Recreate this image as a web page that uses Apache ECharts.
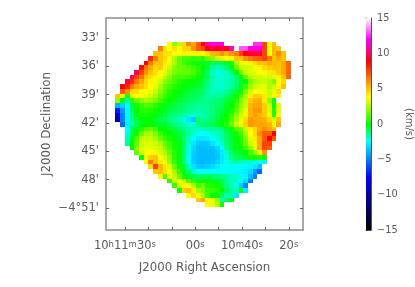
<!DOCTYPE html>
<html><head><meta charset="utf-8">
<style>html,body{margin:0;padding:0;background:#fff}#c{width:415px;height:287px}</style>
<script src="https://cdn.jsdelivr.net/npm/echarts@6/dist/echarts.min.js"></script>
</head><body><div id="c"></div>
<script>
// RA in seconds relative to 10h11m00s; Dec in arcmin below -4deg
const raTicks=[30,20,10,0,-10,-20,-30,-40];
const raLabelTicks=[30,0,-20,-40];
const raLabels=['10{s|h}11{s|m}30{s|s}','00{s|s}','10{s|m}40{s|s}','20{s|s}'];
const decTicks=[33,36,39,42,45,48,51];
const decLabels=["33'","36'","39'","42'","45'","48'","\u22124\u00b051'"];
const barTicks=[-15,-10,-5,0,5,10,15];
const barRange=[-15,15];
const colorStops=[[-15,'#000000'],[-7.5,'#0000ff'],[-2.5,'#00ffff'],[0,'#00ff00'],[3.8,'#ffff00'],[8.8,'#ff0000'],[12,'#ff00ff'],[15,'#ffffff']];
const firstCol=[11,9,8,7,6,5,4,3,2,1,1,0,0,0,0,0,0,1,2,2,2,2,3,4,5,6,7,8,9,11,12,13,15,17,19];
const _=null;
const velocity=[
[3.8,2,2.8,4.6,6.3,5.5,7,8.8,11,11.5,11.5,11.5,_,_,_,_,_,_,12.5,12.5,7.5,3.8,5.2],
[6.3,4.4,3.8,4.4,3.8,4.6,4.6,6,7,7.5,9,9.8,9,10,9,11.5,_,13,13,11.5,11.5,11.5,7.5,3.8,5.2,4.8],
[5,5,4.4,4.4,3.8,3.8,4.1,3.7,3.7,4.1,3.8,4.4,5.2,5.4,6,5.2,5.8,6.3,7.5,8.8,9.5,9.5,9.5,7.5,3.8,5.2,6.2,5],
[8,6.3,5,4.4,3.8,2.5,1.5,1,1,.8,1,.5,1.8,2,3,3.5,3.8,4,5,5,6,6.5,7,7,7.5,6.5,5,5.5,5],
[8.8,6.5,5,5,4.2,3.5,2.5,1.5,1,.5,.2,.2,-.3,-.4,-.8,-.8,-.7,-.4,.2,2.5,3.5,3.8,4,4.5,5,5,5.5,5.2,5,5.5,6.8],
[8.5,6.5,5.5,4.5,4.8,4,3,2,1.5,1.5,1.2,.8,.5,0,-.5,-1.5,-1.8,-1.6,-1.2,-.3,1.5,3,3,3.2,3.6,4,4.5,4.8,5,5,5.5,6.8],
[10,7.5,6,5,4.4,3.8,3.5,2.5,1.8,1.5,1.5,1.5,1,.5,-.2,-1,-2,-2.2,-2,-1.8,-1,0,1.5,3,3.3,3.4,3.8,3.6,4.2,4.4,4.8,5.5,6.8],
[10,7.5,6.5,5,4.4,4,3.6,2.8,2,1.2,1,1,.8,.5,.2,-.3,-.8,-1.5,-2,-2.2,-2,-1.8,-1,0,1.5,2.8,3,3,3.3,3,3.5,4,5,6.8],
[9.5,8,6.5,5.5,4.5,4,3.6,3,2,1.5,1,.5,.2,.1,0,-.2,-.6,-1.2,-1.8,-2,-2,-1.8,-1.5,-1.2,-.5,0,1.8,2.5,2.8,3,2.5,1.8,3.8,4.5],
[9,8,6.5,5.5,5,4.4,3.8,3.5,2.5,1.5,1,.5,.2,0,-.2,-.3,-.5,-.8,-1.3,-1.8,-2,-2,-1.8,-1.6,-1,-.3,.8,2.2,3,3.3,3.5,2.5,3,3.8,5],
[7,6,4.5,4.5,4,3.8,3.5,3,2,1.2,.5,.2,0,-.3,-.5,-.7,-.8,-1,-1.5,-1.8,-1.8,-1.8,-1.5,-1,-.5,.2,1.8,3.2,3.8,3.8,3.6,3,3.5,4.5],
[5,3.5,.2,3.5,3.8,3.8,3.5,3,2.5,1.5,.8,.3,.1,-.2,-.5,-.7,-.8,-1,-1.2,-1.6,-1.5,-1.5,-1.4,-1,-.5,.1,1,2.5,4.2,4.8,4.8,4.2,3,3.8,4],
[2,0,-1.5,.5,1.5,2,2.5,2.2,1.8,1,.3,0,-.2,-.5,-.7,-.9,-1,-1.2,-1.3,-1.4,-1.3,-1.2,-1,-.6,-.2,.5,2,3,4.8,5.3,5.3,4.2,2,.2],
[-4,-3.5,-2.5,-.5,.2,.8,1.2,1,.6,.2,-.1,-.4,-.6,-.8,-1,-1.2,-1.3,-1.4,-1.5,-1.4,-1.2,-1,-.8,-.3,0,1,2.2,3,5.3,5.5,5.5,4.8,3,.1,3.3],
[-7,-4.5,-2.6,-1,0,.5,.6,.5,.2,-.1,-.4,-.6,-.8,-1,-1.2,-1.4,-1.5,-1.6,-1.6,-1.4,-1.2,-.9,-.6,-.2,.3,1.3,2.5,3.5,5.3,5.8,5.8,4.8,3.2,.3,3.5],
[-9,-5,-2.6,-1.2,-.2,.2,.2,.1,-.1,-.4,-.7,-1,-1.2,-1.4,-1.6,-1.8,-2,-1.9,-1.8,-1.5,-1.2,-.8,-.4,0,.8,2,3,4,5.3,5.8,5.3,4.8,3.5,.3,3.8],
[-10,-5,-2.7,-1.4,-.5,0,0,-.1,-.4,-.7,-1,-1.2,-1.5,-1.8,-2.2,-3,-3.6,-1,-1.5,-1.4,-1,-.5,-.2,.2,1.2,2.5,3.5,4.5,5.8,5.5,5.5,5.3,4.5,3,5],
[-5.5,-2.8,-1.5,-.8,-.2,0,0,-.2,-.4,-.4,-.8,-1.2,-1.5,-1.8,-2,-2.1,-1.2,-1,-1,-.8,-.3,0,.5,1.5,3,3.5,4.8,5.8,5.6,5.6,5.5,5.3,4,5.5],
[-2.5,-.8,-.2,.5,1.2,1.5,1,0,0,-.3,-.6,-1,-1.2,-1.6,-1.8,-2,-1.8,-1.7,-1.5,-1.4,-1.2,-.5,.2,1.2,1.5,3,4,4.5,5.5,6,5.5,5],
[-2.2,-.6,.2,1.5,2.5,2.5,1.8,.8,.2,0,-.2,-.6,-1,-1.5,-2,-2.4,-2.5,-2.4,-2,-1.8,-1.6,-1,-.3,.2,1,2.5,3.8,4.5,6,7,7,8.8],
[-1.8,-.2,1,2.8,3,3,2.5,1.5,.8,.3,0,-.4,-1,-1.8,-2.5,-3,-3,-2.8,-2.5,-2,-1.6,-1,-.5,-.1,.5,2,3.5,4.2,5.5,7,8.8,7],
[-1.4,0,1.5,3,3.2,3.2,3,2.5,1.5,.8,.2,-.2,-.8,-2,-3,-3.5,-3.6,-3.5,-3,-2.6,-2,-1.2,-.6,-.1,.3,1.5,3,4,5.5,7.5,7.5],
[.1,2,3.2,3.5,3.5,3.2,3,2,1,.3,-.2,-1,-2.2,-3.2,-3.8,-3.8,-3.8,-3.8,-3.2,-2.5,-1.5,-.6,-.2,-.1,1,2,3.5,5.5,7.5,7],
[1.5,3.2,3.8,3.8,3.5,3.2,2.5,1.5,.5,-.2,-1,-2.3,-3.4,-3.8,-3.8,-3.8,-3.8,-3.5,-2.8,-2,-1,-.5,-.3,0,1,2,3.5,6],
[.1,3.5,4.8,5,3.8,3.2,2,.6,-.2,-1,-2.5,-3.5,-3.8,-3.9,-3.9,-3.8,-3.6,-3,-2.2,-1.4,-.8,-.8,-.5,.3,.2,.5,.1],
[3.8,6.3,5,4.2,3.5,2.2,.8,-.2,-1,-2.5,-3.5,-3.8,-3.9,-3.8,-3.7,-3.4,-2.8,-2.3,-1.8,-1.6,-1.8,-2,-2,-2.2,-2.4,-2.6],
[4.5,7.5,5.2,4.3,3.2,1.5,.2,-.5,-1.8,-3,-3.5,-3.6,-3.5,-3.2,-2.8,-2.5,-2.4,-2.4,-2.5,-2.5,-2.6,-2.7,-3,-3.7],
[4.8,5,4.5,3.8,2.5,.8,-.2,-1,-2,-2.5,-2.5,-2.5,-2.5,-2.4,-2.4,-2.5,-2.6,-2.6,-2.7,-2.8,-3.2,-4.5,-5.5],
[4,1,3.6,3,1.5,.2,-.3,-.8,-1,-.8,-.8,-1,-1.2,-1.2,-1.5,-1.8,-2,-2.3,-2.6,-3.8,-5],
[.6,3,3.6,2.8,1.2,.5,.2,.1,.1,-.2,-.4,-.8,-1.5,-1.8,-2,-2.5,-3.2,-5],
[.8,3,4,3.8,2.5,1,1.8,.5,.3,.2,-.5,-1.2,-1.8,-2.2,-3.5,-5],
[.2,4.8,5.2,4,2.5,1.8,1,.8,.5,0,-.8,-1.5,-1.8,.2,-2.8],
[3.8,4.5,3.6,2.5,1,0,-.2,-1,-1.8,-1.8,-3],
[4.8,5.5,3.8,3.6,2.2,-1.8,-1,-.2],
[3.8,3.6,2.5,.3]
];
const raStart=34.13, raStep=2.025, decStart=33.39, decStep=0.5;

const cells=[];
velocity.forEach((row,r)=>row.forEach((v,i)=>{
  if(v!==null) cells.push([raStart-raStep*(firstCol[r]+i+.5),decStart+decStep*(r+.5),v]);
}));
function colorOf(v){
  for(let i=1;i<colorStops.length;i++){
    if(v<=colorStops[i][0]){
      const a=colorStops[i-1],b=colorStops[i];
      return echarts.color.lerp((v-a[0])/(b[0]-a[0]),[a[1],b[1]]);
    }
  }
  return colorStops[colorStops.length-1][1];
}
const grey='#8c8c8c', text='#5a5a5a', font='"DejaVu Sans"';
const rich={s:{fontSize:8.5,verticalAlign:'top',color:text,fontFamily:font}};
const raExt=[-46.07,38.1], decExt=[30.88,53.33];
function raAxis(pos,labels){return {type:'value',gridIndex:0,inverse:true,min:raExt[0],max:raExt[1],position:pos,
  axisLine:{show:true,onZero:false,lineStyle:{color:grey,width:1.5}},splitLine:{show:false},
  axisTick:{show:true,inside:true,length:3,customValues:raTicks,lineStyle:{color:'#666'}},
  axisLabel:labels?{show:true,customValues:raLabelTicks,margin:10,color:text,fontFamily:font,fontSize:11.5,
    formatter:v=>raLabels[raLabelTicks.indexOf(v)],rich,hideOverlap:false}:{show:false},
  name:labels?'J2000 Right Ascension':'',nameLocation:'middle',nameGap:32,nameTextStyle:{color:text,fontFamily:font,fontSize:11.8}};}
function decAxis(pos,labels){return {type:'value',gridIndex:0,inverse:true,min:decExt[0],max:decExt[1],position:pos,
  axisLine:{show:true,onZero:false,lineStyle:{color:grey,width:1.5}},splitLine:{show:false},
  axisTick:{show:true,inside:true,length:3,customValues:decTicks,lineStyle:{color:'#666'}},
  axisLabel:labels?{show:true,customValues:decTicks,margin:7,padding:[2,0,0,0],color:text,fontFamily:font,fontSize:11.5,
    formatter:v=>decLabels[decTicks.indexOf(v)],hideOverlap:false}:{show:false},
  name:labels?'J2000 Declination':'',nameLocation:'middle',nameGap:53,nameTextStyle:{color:text,fontFamily:font,fontSize:11.8}};}
const chart=echarts.init(document.getElementById('c'),null,{renderer:'canvas'});
chart.setOption({
  animation:false,backgroundColor:'#fff',
  grid:[{left:106,top:18,width:197,height:212},{left:366,top:18,width:5,height:212}],
  xAxis:[raAxis('bottom',true),raAxis('top',false),
    {type:'value',gridIndex:1,min:0,max:1,position:'bottom',axisLine:{show:true,onZero:false,lineStyle:{color:'#555'}},axisTick:{show:false},axisLabel:{show:false},splitLine:{show:false}},
    {type:'value',gridIndex:1,min:0,max:1,position:'top',axisLine:{show:true,onZero:false,lineStyle:{color:'#555'}},axisTick:{show:false},axisLabel:{show:false},splitLine:{show:false}}],
  yAxis:[decAxis('left',true),decAxis('right',false),
    {type:'value',gridIndex:1,min:barRange[0],max:barRange[1],position:'left',
      axisLine:{show:true,onZero:false,lineStyle:{color:'#555'}},axisTick:{show:true,inside:true,length:2,customValues:barTicks,lineStyle:{color:'#444'}},axisLabel:{show:false},splitLine:{show:false}},
    {type:'value',gridIndex:1,min:barRange[0],max:barRange[1],position:'right',
      axisLine:{show:true,onZero:false,lineStyle:{color:'#555'}},axisTick:{show:true,inside:true,length:2,customValues:barTicks,lineStyle:{color:'#444'}},
      axisLabel:{show:true,customValues:barTicks,margin:6,padding:[3,0,0,0],color:text,fontFamily:font,fontSize:9.8,formatter:v=>String(v).replace('-','\u2212'),hideOverlap:false},splitLine:{show:false},
      name:'(km/s)',nameLocation:'middle',nameRotate:-90,nameGap:33,nameTextStyle:{color:text,fontFamily:font,fontSize:10}}],
  series:[
    {type:'custom',xAxisIndex:0,yAxisIndex:0,coordinateSystem:'cartesian2d',data:cells,clip:true,silent:true,
     renderItem:(p,api)=>{
       const x=api.value(0),y=api.value(1),v=api.value(2);
       const a=api.coord([x+raStep/2,y-decStep/2]),b=api.coord([x-raStep/2,y+decStep/2]);
       const x0=Math.round(a[0]),y0=Math.round(a[1]),x1=Math.round(b[0]),y1=Math.round(b[1]);
       return {type:'rect',shape:{x:x0,y:y0,width:x1-x0,height:y1-y0},style:{fill:colorOf(v)}};
     }},
    {type:'custom',xAxisIndex:2,yAxisIndex:2,coordinateSystem:'cartesian2d',data:[[0,barRange[0],1,barRange[1]]],silent:true,
     renderItem:(p,api)=>{
       const a=api.coord([api.value(0),api.value(3)]),b=api.coord([api.value(2),api.value(1)]);
       return {type:'rect',shape:{x:a[0],y:a[1],width:b[0]-a[0],height:b[1]-a[1]},style:{
         fill:new echarts.graphic.LinearGradient(0,1,0,0,colorStops.map(s=>({offset:(s[0]-barRange[0])/(barRange[1]-barRange[0]),color:s[1]})))}};
     }}
  ]
});
</script></body></html>
